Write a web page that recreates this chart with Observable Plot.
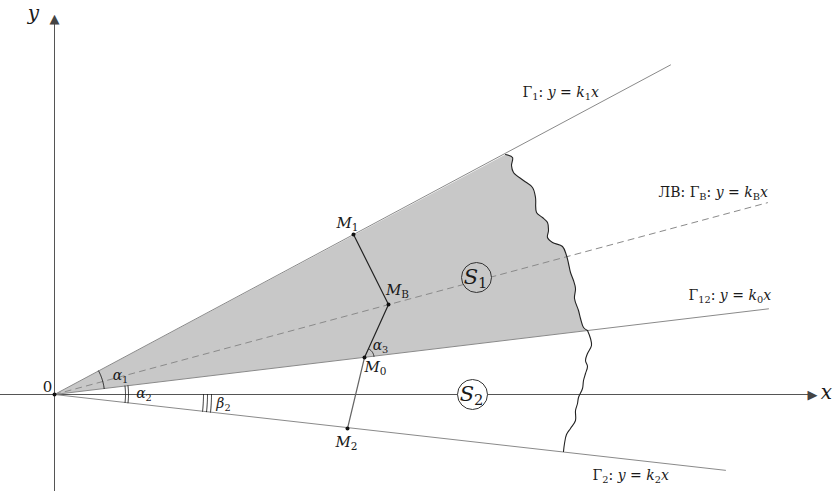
<!DOCTYPE html>
<html><head><meta charset="utf-8">
<script src="https://cdn.jsdelivr.net/npm/d3@7"></script>
<script src="https://cdn.jsdelivr.net/npm/@observablehq/plot@0.6"></script>
<style>body{margin:0;background:#fff}</style>
</head><body><div id="chart"></div>
<script>
// Rays through the origin: y = k x
const rayNames = ["Γ1", "ΓB", "Γ12", "Γ2"];
const raySlopes = [0.535, 0.269, 0.120, -0.113];
const rayEndX = [6.16, 7.13, 7.14, 6.71];
const rayLabels = ["Γ_{1}: *y* = *k*_{1}*x*", "ЛВ: Γ_{В}: *y* = *k*_{В}*x*", "Γ_{12}: *y* = *k*_{0}*x*", "Γ_{2}: *y* = *k*_{2}*x*"];
const rayLabelX = [4.68, 6.04, 6.34, 5.38];
const rayLabelY = [3.02, 2.02, 0.99, -0.81];

// Points
const pointNames = ["*M*_{1}", "*M*_{В}", "*M*_{0}", "*M*_{2}"];
const pointX = [2.99, 3.34, 3.10, 2.93];
const pointY = [1.60, 0.90, 0.37, -0.34];
const pointLabelX = [2.93, 3.43, 3.21, 2.92];
const pointLabelY = [1.71, 1.04, 0.27, -0.48];

// Wavy boundary (upper: Γ1 → Γ12, lower: Γ12 → Γ2)
const waveUpX = [4.51, 4.58, 4.57, 4.59, 4.69, 4.78, 4.81, 4.82, 4.88, 4.93, 4.94, 4.93, 4.98, 5.08, 5.12, 5.14, 5.16, 5.19, 5.21, 5.20, 5.24, 5.26, 5.29, 5.33];
const waveUpY = [2.40, 2.37, 2.29, 2.22, 2.14, 2.07, 1.97, 1.82, 1.77, 1.72, 1.64, 1.57, 1.52, 1.48, 1.39, 1.31, 1.22, 1.14, 1.06, 0.96, 0.84, 0.76, 0.67, 0.64];
const waveLoX = [5.33, 5.36, 5.37, 5.33, 5.31, 5.33, 5.31, 5.29, 5.28, 5.24, 5.23, 5.21, 5.21, 5.16, 5.12, 5.10, 5.09];
const waveLoY = [0.64, 0.56, 0.49, 0.41, 0.34, 0.28, 0.21, 0.14, 0.06, -0.03, -0.09, -0.16, -0.26, -0.34, -0.40, -0.49, -0.57];

// Regions
const regionNames = ["*S*_{1}", "*S*_{2}"];
const regionX = [4.22, 4.18];
const regionY = [1.17, 0.0];

// Angle marks: center, radius, from-angle slope, to-angle slope
const angleLabels = ["*α*_{1}", "*α*_{2}", "*β*_{2}", "*α*_{3}"];
const angleLabelX = [0.66, 0.895, 1.69, 3.26];
const angleLabelY = [0.19, 0.01, -0.09, 0.49];

const toRad = k => Math.atan(k);
function arc(cx, cy, r, a0, a1) {
  const pts = [];
  const n = 24;
  for (let i = 0; i <= n; i++) {
    const a = a0 + (a1 - a0) * i / n;
    pts.push({x: cx + r * Math.cos(a), y: cy + r * Math.sin(a)});
  }
  return pts;
}
const aG1 = toRad(raySlopes[0]), aG12 = toRad(raySlopes[2]), aG2 = toRad(raySlopes[3]);
const aM0MB = Math.atan2(pointY[1] - pointY[2], pointX[1] - pointX[2]);
const arcs = [
  arc(0, 0, 0.50, aG12, aG1),
  arc(0, 0, 0.71, aG2, aG12),
  arc(0, 0, 0.74, aG2, aG12),
  arc(0, 0, 1.49, aG2, 0),
  arc(0, 0, 1.53, aG2, 0),
  arc(0, 0, 1.57, aG2, 0),
  arc(pointX[2], pointY[2], 0.095, aG12, aM0MB)
];
const arcData = arcs.flatMap((pts, i) => pts.map(p => ({...p, id: i})));

const rays = rayNames.flatMap((n, i) => [{name: n, x: 0, y: 0}, {name: n, x: rayEndX[i], y: raySlopes[i] * rayEndX[i]}]);
const waveUp = waveUpX.map((x, i) => ({x, y: waveUpY[i]}));
const waveLo = waveLoX.map((x, i) => ({x, y: waveLoY[i]}));
const shaded = [{x: 0, y: 0}, ...waveUp, {x: 0, y: 0}];
const pts = pointX.map((x, i) => ({x, y: pointY[i]}));

const serif = "'DejaVu Serif', serif";
const txt = "#1a1a1a";

const plot = Plot.plot({
  width: 834, height: 491,
  margin: 0,
  x: {domain: [-0.54, 7.80], axis: null},
  y: {domain: [-0.97, 3.94], axis: null},
  style: {background: "white", fontFamily: serif},
  marks: [
    Plot.line(shaded, {x: "x", y: "y", fill: "#c8c8c8", stroke: "none"}),
    // axes
    Plot.ruleY([0], {x1: -0.54, x2: 7.55, stroke: "#555", strokeWidth: 1}),
    Plot.ruleX([0], {y1: -0.97, y2: 3.74, stroke: "#555", strokeWidth: 1}),
    Plot.text(["▶"], {x: 7.63, y: 0, text: d => d, textAnchor: "end", fontSize: 13, fill: "#444", fontFamily: "DejaVu Sans"}),
    Plot.text(["▲"], {x: 0, y: 3.76, text: d => d, fontSize: 13, fill: "#444", fontFamily: "DejaVu Sans"}),
    // rays
    Plot.line(rays.filter(d => d.name !== "ΓB"), {x: "x", y: "y", z: "name", stroke: "#8a8a8a", strokeWidth: 1}),
    Plot.line(rays.filter(d => d.name === "ΓB"), {x: "x", y: "y", stroke: "#8a8a8a", strokeWidth: 1, strokeDasharray: "6,5"}),
    // wavy boundaries
    Plot.line(waveUp, {x: "x", y: "y", stroke: "#222", strokeWidth: 1.1, curve: "catmull-rom"}),
    Plot.line(waveLo, {x: "x", y: "y", stroke: "#222", strokeWidth: 1.1, curve: "catmull-rom"}),
    // segments between points
    Plot.line(pts.slice(0, 3), {x: "x", y: "y", stroke: "#222", strokeWidth: 1.2}),
    Plot.line(pts.slice(2, 4), {x: "x", y: "y", stroke: "#666", strokeWidth: 1.2}),
    // angle arcs
    Plot.line(arcData, {x: "x", y: "y", z: "id", stroke: "#222", strokeWidth: 1}),
    // points
    Plot.dot(pts, {x: "x", y: "y", r: 2, fill: "#111"}),
    Plot.dot([{x: 0, y: 0}], {x: "x", y: "y", r: 2, fill: "#111"}),
    // region circles
    Plot.dot(regionX.map((x, i) => ({x, y: regionY[i], i})), {x: "x", y: "y", r: 15, stroke: "#333", strokeWidth: 1, fill: d => d.i === 0 ? "#c8c8c8" : "#fff"}),
    Plot.text(regionNames, {x: (d, i) => regionX[i], y: (d, i) => regionY[i], text: d => d, fontSize: 21, fill: txt, dx: -1}),
    // labels
    Plot.text(rayLabels, {x: (d, i) => rayLabelX[i], y: (d, i) => rayLabelY[i], text: d => d, textAnchor: "start", fontSize: 14, fill: txt}),
    Plot.text(pointNames, {x: (d, i) => pointLabelX[i], y: (d, i) => pointLabelY[i], text: d => d, fontSize: 15, fill: txt}),
    Plot.text(angleLabels, {x: (d, i) => angleLabelX[i], y: (d, i) => angleLabelY[i], text: d => d, fontSize: 14, fill: txt}),
    Plot.text(["0"], {x: -0.07, y: 0.07, text: d => d, fontSize: 15, fill: txt}),
    Plot.text(["*y*"], {x: -0.21, y: 3.81, text: d => d, fontSize: 20, fill: txt}),
    Plot.text(["*x*"], {x: 7.72, y: 0.02, text: d => d, fontSize: 20, fill: txt})
  ]
});

// convert lightweight markup (*italic*, _{sub}) into tspans
d3.select(plot).selectAll("text").each(function() {
  const s = this.textContent;
  if (!/[_*]/.test(s)) return;
  const el = d3.select(this);
  el.text(null);
  const re = /_\{([^}]*)\}|\*([^*]*)\*|([^_*]+)/g;
  let m, shifted = false;
  while ((m = re.exec(s))) {
    const t = el.append("tspan");
    if (m[1] !== undefined) {
      t.text(m[1]).attr("font-size", "0.7em").attr("dy", "0.28em").attr("font-style", "normal");
      shifted = true;
    } else {
      t.text(m[2] !== undefined ? m[2] : m[3]);
      if (m[2] !== undefined) t.attr("font-style", "italic");
      if (shifted) { t.attr("dy", "-0.196em"); shifted = false; }
    }
  }
});

document.getElementById("chart").appendChild(plot);
</script>
</body></html>
